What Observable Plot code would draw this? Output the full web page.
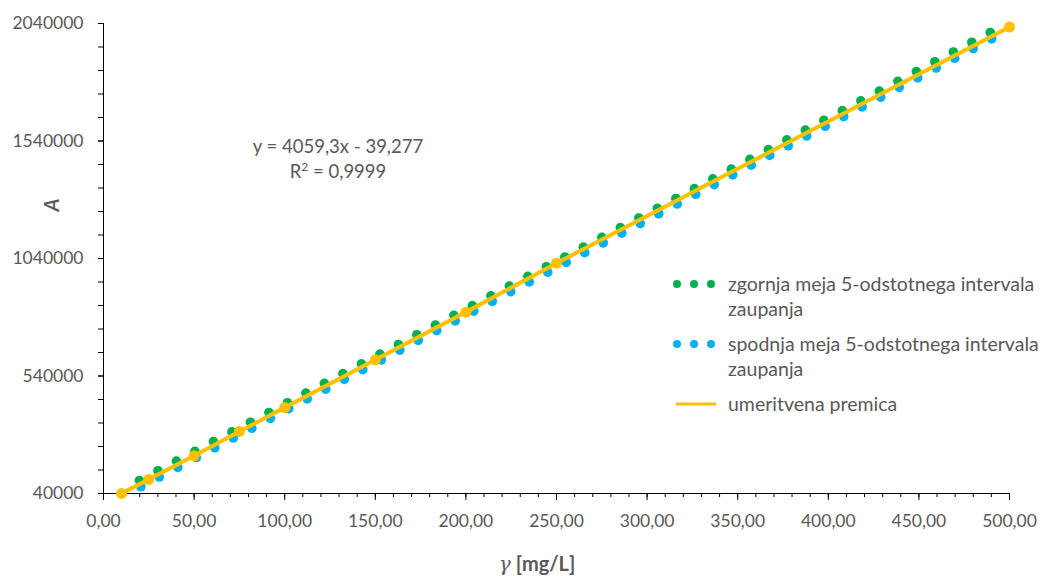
<!DOCTYPE html>
<html>
<head>
<meta charset="utf-8">
<script src="https://cdn.jsdelivr.net/npm/d3@7"></script>
<script src="https://cdn.jsdelivr.net/npm/@observablehq/plot@0.6"></script>
<style>
  body { margin: 0; background: #fff; font-family: Lato, "Open Sans", sans-serif; }
  #chart { position: relative; width: 1045px; height: 576px; overflow: hidden; }
  .legend { position: absolute; left: 668px; top: 271px; color: #595959; font-size: 19.5px; line-height: 25px; }
  .legend .item { position: relative; padding-left: 60px; margin-bottom: 10px; }
  .legend .item svg { position: absolute; left: 0; top: 2px; }
</style>
</head>
<body>
<div id="chart"></div>
<script>
// Calibration line (umeritvena premica): concentration γ [mg/L] and signal A
const calX = [10, 25, 50, 75, 100, 150, 200, 250, 500];
const calA = [40500, 100000, 200500, 304000, 405500, 609000, 811800, 1020000, 2025000];

// Upper / lower limits of the 5 % confidence interval
const bandX = [20.21, 30.42, 40.63, 50.83, 61.04, 71.25, 81.46, 91.67, 101.88, 112.08,
  122.29, 132.5, 142.71, 152.92, 163.13, 173.33, 183.54, 193.75, 203.96, 214.17,
  224.38, 234.58, 244.79, 255, 265.21, 275.42, 285.63, 295.83, 306.04, 316.25,
  326.46, 336.67, 346.88, 357.08, 367.29, 377.5, 387.71, 397.92, 408.13, 418.33,
  428.54, 438.75, 448.96, 459.17, 469.38, 479.58, 489.79];
const upperA = [95500, 136800, 178200, 219500, 260800, 302200, 343500, 384900, 426200, 467500,
  508900, 550200, 591600, 632900, 674300, 715600, 756900, 798300, 839700, 881100,
  922500, 963800, 1005200, 1046700, 1088200, 1129700, 1171200, 1212600, 1254100, 1295600,
  1337200, 1378700, 1420300, 1461800, 1503300, 1544800, 1586400, 1627900, 1669500, 1711000,
  1752500, 1794100, 1835600, 1877200, 1918700, 1960200, 2001800];
const lowerA = [68500, 110000, 151600, 193100, 234600, 276200, 317700, 359300, 400800, 442300,
  483900, 525400, 567000, 608500, 650100, 691600, 733100, 774600, 816100, 857600,
  899100, 940500, 982000, 1023500, 1064900, 1106300, 1147700, 1189000, 1230400, 1271800,
  1313200, 1354500, 1395900, 1437200, 1478500, 1519800, 1561200, 1602500, 1643900, 1685200,
  1726500, 1767900, 1809200, 1850600, 1891900, 1933200, 1974600];

// Axis ticks
const xMajor = [0, 50, 100, 150, 200, 250, 300, 350, 400, 450, 500];
const xMinor = d3.range(0, 501, 10);
const yMajor = [40000, 540000, 1040000, 1540000, 2040000];
const yMinor = d3.range(40000, 2040001, 100000);

const equation = "y = 4059,3x - 39,277";
const r2 = "0,9999";

const GREEN = "#00B050", BLUE = "#00B0F0", GOLD = "#FFC000", TEXT = "#595959";

const cal = calX.map((x, i) => ({x, a: calA[i]}));
const upper = bandX.map((x, i) => ({x, a: upperA[i]}));
const lower = bandX.map((x, i) => ({x, a: lowerA[i]}));

const fmtX = d => d.toFixed(2).replace(".", ",");

const chart = Plot.plot({
  width: 1045,
  height: 576,
  marginLeft: 103,
  marginRight: 36,
  marginTop: 23,
  marginBottom: 83,
  style: {fontFamily: "Lato, 'Open Sans', sans-serif", fontSize: "17.5px", background: "#fff", overflow: "visible"},
  x: {domain: [0, 500]},
  y: {domain: [40000, 2040000]},
  marks: [
    Plot.axisX({ticks: xMinor, tickSize: 4, tickFormat: () => "", stroke: "#000", label: null}),
    Plot.axisX({ticks: xMajor, tickSize: 7, tickPadding: 14, tickFormat: fmtX, fill: TEXT, stroke: "#000", label: null}),
    Plot.axisY({ticks: yMinor, tickSize: 5, tickFormat: () => "", stroke: "#000", label: null}),
    Plot.axisY({ticks: yMajor, tickSize: 5, tickPadding: 15, tickFormat: d => String(d), fill: TEXT, stroke: "#000", label: null}),
    Plot.ruleY([40000], {stroke: "#000", strokeWidth: 1}),
    Plot.ruleX([0], {stroke: "#000", strokeWidth: 1}),
    Plot.dot(upper, {x: "x", y: "a", r: 4.8, fill: GREEN, dx: -0.7}),
    Plot.dot(lower, {x: "x", y: "a", r: 4.8, fill: BLUE, dx: 0.7}),
    Plot.line(cal, {x: "x", y: "a", stroke: GOLD, strokeWidth: 4}),
    Plot.dot(cal, {x: "x", y: "a", r: 5.5, fill: GOLD})
  ]
});

const root = document.getElementById("chart");
root.appendChild(chart);

// Axis titles and regression equation
const svg = d3.select(chart);
const xl = svg.append("text")
  .attr("x", 537).attr("y", 571)
  .attr("text-anchor", "middle")
  .attr("fill", TEXT).style("font-size", "20px");
xl.append("tspan").text("γ").style("font-style", "italic").style("font-family", "'DejaVu Serif', serif");
xl.append("tspan").text(" [mg/L]").style("font-weight", "bold");

svg.append("text")
  .attr("transform", "translate(59,205) rotate(-90)")
  .attr("text-anchor", "middle")
  .attr("fill", TEXT)
  .style("font-size", "20px").style("font-weight", "bold").style("font-style", "italic")
  .text("A");

const eq = svg.append("g").attr("fill", TEXT).style("font-size", "18.5px").attr("text-anchor", "middle");
eq.append("text").attr("x", 338).attr("y", 153).text(equation);
const r2t = eq.append("text").attr("x", 338).attr("y", 178);
r2t.append("tspan").text("R");
r2t.append("tspan").text("2").attr("dy", -7).style("font-size", "12px");
r2t.append("tspan").text(" = " + r2).attr("dy", 7);

// Legend
const legendItems = [
  {label: ["zgornja meja 5-odstotnega intervala", "zaupanja"], color: GREEN, type: "dots"},
  {label: ["spodnja meja 5-odstotnega intervala", "zaupanja"], color: BLUE, type: "dots"},
  {label: ["umeritvena premica"], color: GOLD, type: "line"}
];
const legend = document.createElement("div");
legend.className = "legend";
for (const it of legendItems) {
  const item = document.createElement("div");
  item.className = "item";
  const sw = it.type === "dots"
    ? `<svg width="52" height="20"><circle cx="9" cy="11" r="4" fill="${it.color}"/><circle cx="26" cy="11" r="4" fill="${it.color}"/><circle cx="43" cy="11" r="4" fill="${it.color}"/></svg>`
    : `<svg width="52" height="20"><line x1="8" x2="48" y1="11" y2="11" stroke="${it.color}" stroke-width="3"/></svg>`;
  item.innerHTML = sw + it.label.map(t => `<div>${t}</div>`).join("");
  legend.appendChild(item);
}
root.appendChild(legend);
</script>
</body>
</html>
